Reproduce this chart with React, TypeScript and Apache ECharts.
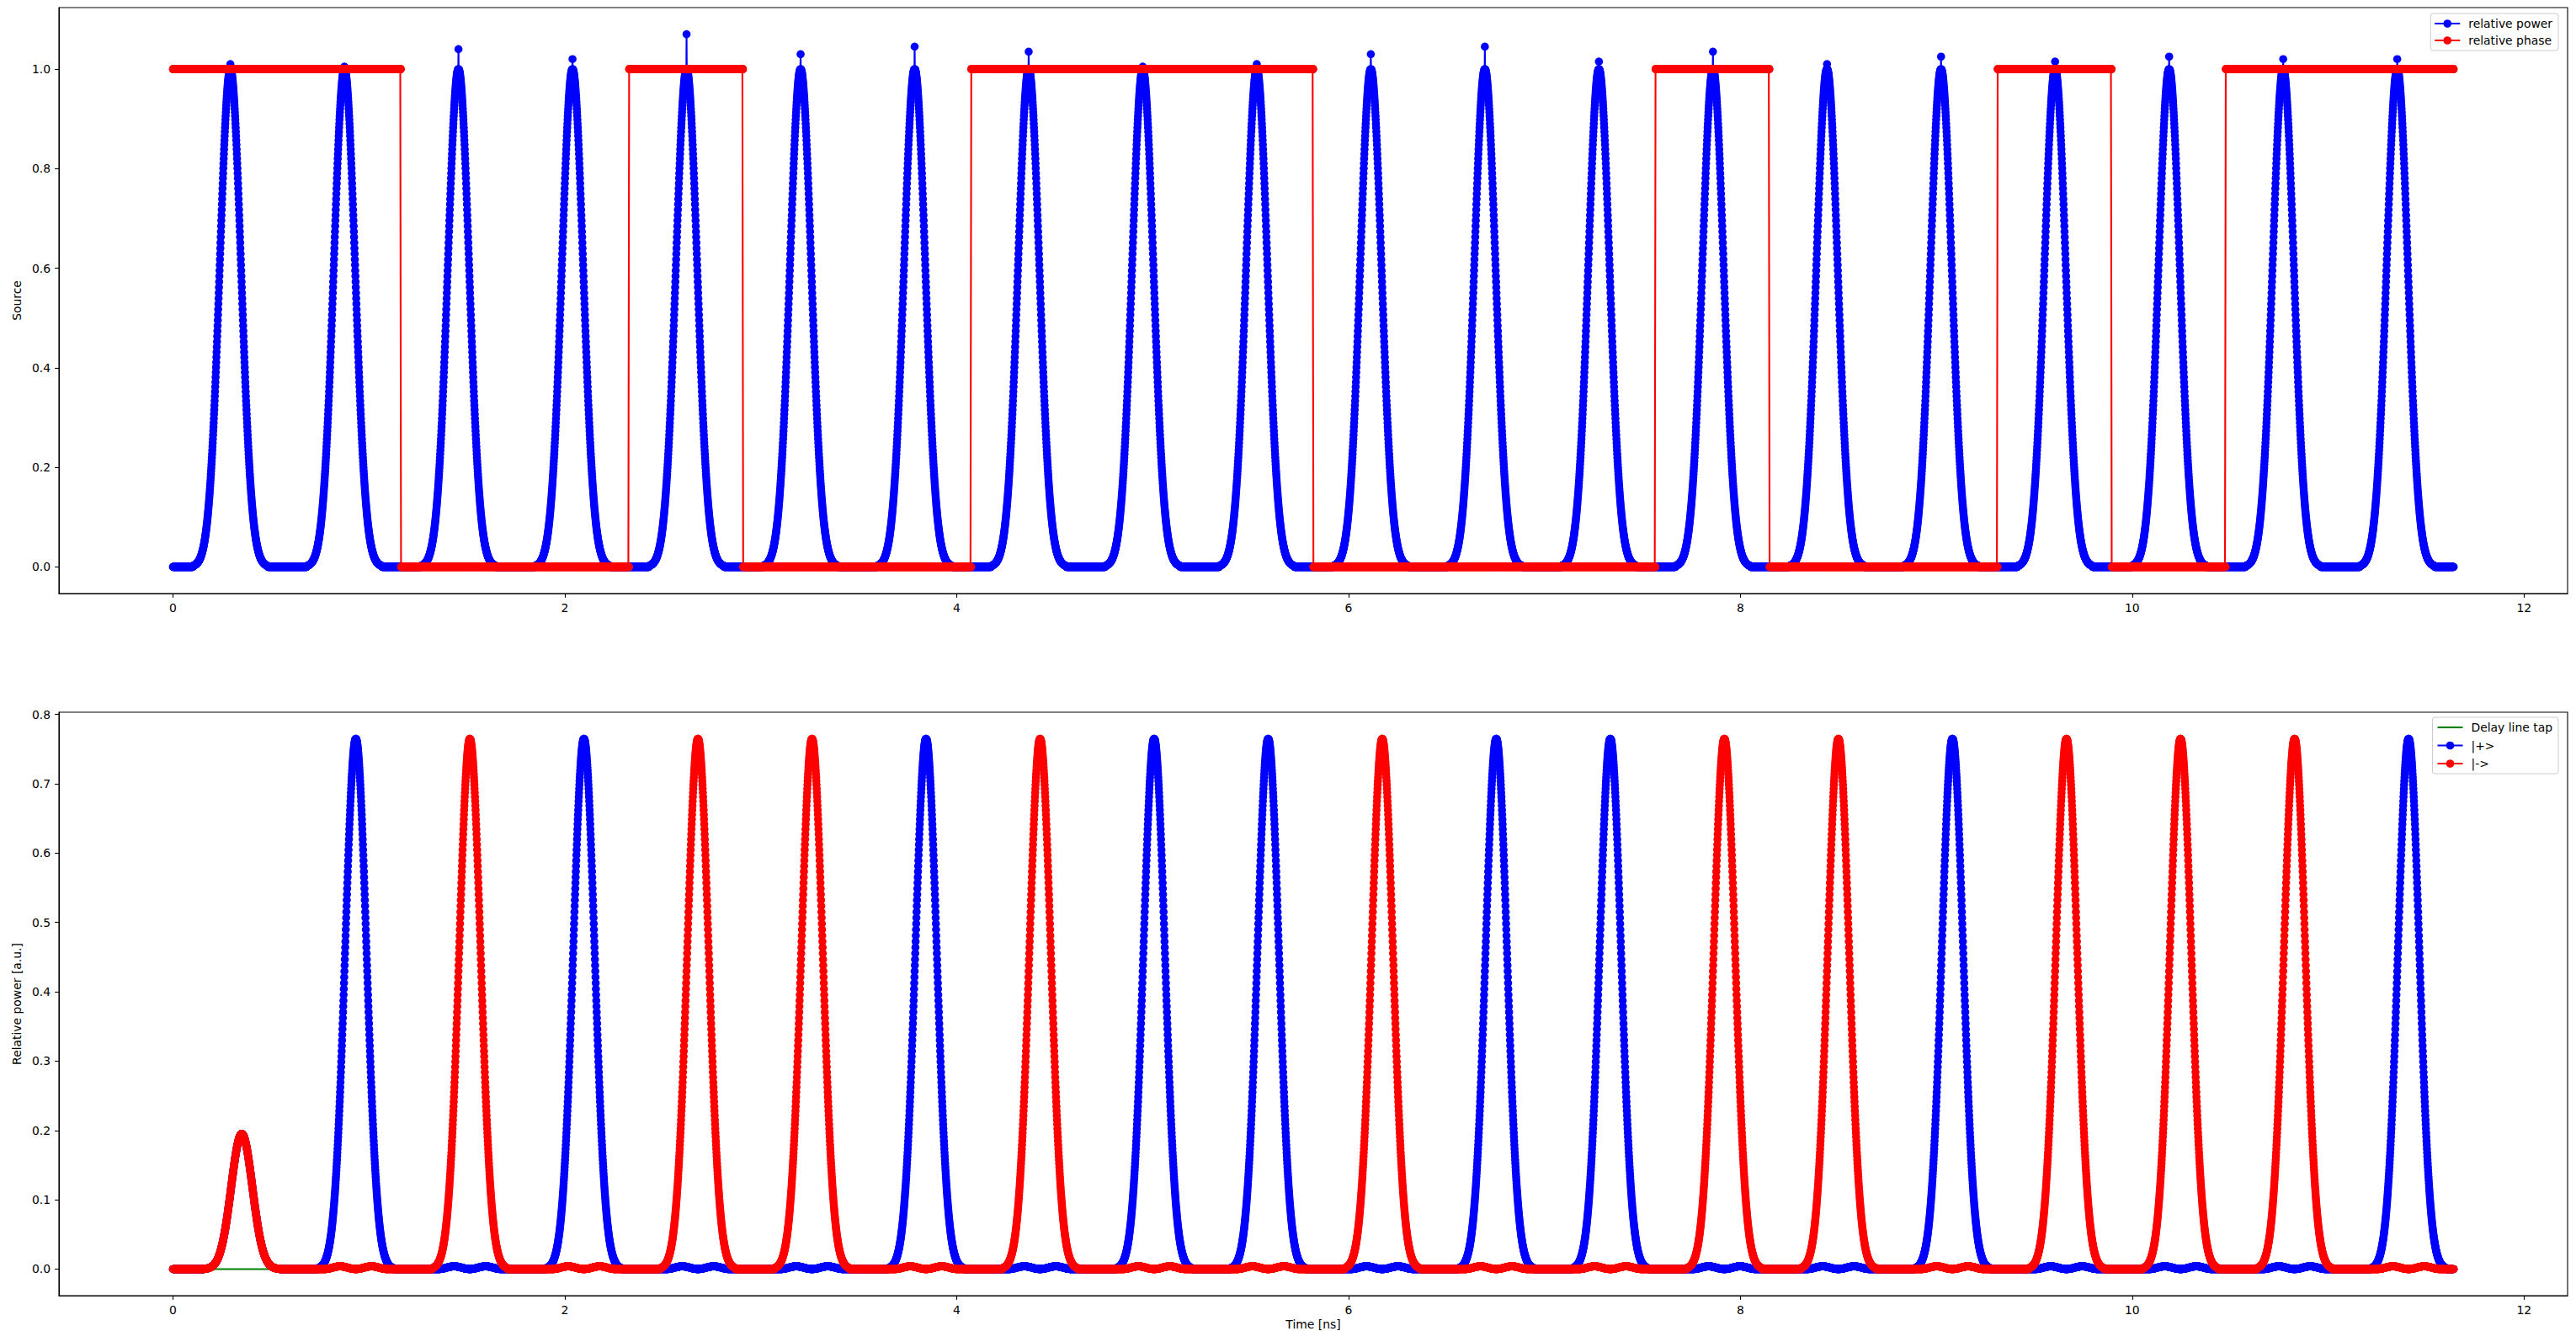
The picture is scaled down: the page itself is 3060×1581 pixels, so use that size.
import React, { useEffect, useRef } from "react";
import * as echarts from "echarts";

// ---------------- data ----------------
const SLOT_NS = 0.58208; // bit slot length [ns]
const SAMPLES_PER_SLOT = 580;
const SLOT_COUNT = 20;

// relative phase (0 / 1) of each slot, top plot
const PHASE_BITS = [1, 1, 0, 0, 1, 0, 0, 1, 1, 1, 0, 0, 0, 1, 0, 0, 1, 0, 1, 1];

// highest sample of each source pulse (top plot)
const SOURCE_PEAK_MAX = [
  1.01, 1.005, 1.04, 1.02, 1.07, 1.03, 1.045, 1.035, 1.005, 1.01,
  1.03, 1.045, 1.015, 1.035, 1.01, 1.025, 1.015, 1.025, 1.02, 1.02,
];
const SOURCE_CENTER_SAMPLE = 292; // pulse centre inside a slot (~0.293 ns)
const DETECT_CENTER_SAMPLE = 350; // detector pulses arrive ~0.058 ns later

// half pulse profile, one value per sample step (~1 ps) away from the centre
const PULSE_PROFILE = [
  1, 0.9998, 0.9993, 0.9985, 0.9973, 0.9957, 0.9938, 0.9916, 0.9891, 0.9862,
  0.983, 0.9795, 0.9756, 0.9714, 0.9669, 0.9622, 0.957, 0.9517, 0.9459, 0.94,
  0.9337, 0.9272, 0.9203, 0.9133, 0.9059, 0.8984, 0.8905, 0.8825, 0.8742, 0.8657,
  0.857, 0.8481, 0.8389, 0.8296, 0.8201, 0.8105, 0.8007, 0.7907, 0.7807, 0.7704,
  0.76, 0.7496, 0.739, 0.7283, 0.7175, 0.7066, 0.6957, 0.6847, 0.6736, 0.6625,
  0.6513, 0.6402, 0.6289, 0.6177, 0.6065, 0.5953, 0.584, 0.5728, 0.5616, 0.5505,
  0.5394, 0.5283, 0.5173, 0.5063, 0.4954, 0.4845, 0.4737, 0.4631, 0.4525, 0.442,
  0.4315, 0.4213, 0.411, 0.401, 0.391, 0.3811, 0.3713, 0.3618, 0.3522, 0.3429,
  0.3337, 0.3246, 0.3156, 0.3068, 0.2982, 0.2897, 0.2813, 0.2731, 0.265, 0.2571,
  0.2493, 0.2417, 0.2342, 0.2269, 0.2197, 0.2127, 0.2059, 0.1992, 0.1926, 0.1862,
  0.18, 0.1739, 0.1679, 0.1621, 0.1565, 0.151, 0.1456, 0.1404, 0.1353, 0.1304,
  0.1255, 0.1209, 0.1163, 0.1119, 0.1077, 0.1035, 0.0995, 0.0956, 0.0918, 0.0882,
  0.0846, 0.0812, 0.0779, 0.0747, 0.0716, 0.0686, 0.0657, 0.0629, 0.0602, 0.0576,
  0.0551, 0.0527, 0.0504, 0.0482, 0.046, 0.0439, 0.0419, 0.04, 0.0381, 0.0364,
  0.0347, 0.0331, 0.0315, 0.03, 0.0286, 0.0272, 0.0258, 0.0246, 0.0234, 0.0222,
  0.0211, 0.02, 0.019, 0.0181, 0.0171, 0.0162, 0.0154, 0.0146, 0.0138, 0.0131,
  0.0124, 0.0117, 0.0111, 0.0105, 0.0099, 0.0094, 0.0089, 0.0084, 0.0079, 0.0075,
  0.007, 0.0066, 0.0063, 0.0059, 0.0056, 0.0052, 0.0049, 0.0046, 0.0044, 0.0041,
  0.0039, 0.0036, 0.0034, 0.0032, 0.003, 0.0028, 0.0026, 0.0025, 0.0023, 0.0022,
  0.0021,
];

// small cross-talk ripple (units of 1e-5), rising half; the falling half mirrors it
const RIPPLE_RISE_1E5 = [
  0, 0, 1, 1, 2, 4, 6, 8, 10, 12, 15, 18, 22, 26, 29, 34, 38, 43, 48, 53,
  59, 64, 70, 76, 82, 89, 96, 102, 109, 116, 123, 131, 138, 146, 153, 161,
  169, 176, 184, 192, 200, 208, 216, 224, 231, 239, 247, 254, 262, 269, 277,
  284, 291, 298, 305, 311, 318, 324, 330, 336, 341, 347, 352, 357, 362, 366,
  371, 375, 378, 382, 385, 388, 390, 392, 394, 396, 398, 399, 399, 400, 400,
];

// detector pulse peak heights per slot
const PLUS_PEAKS = [
  0.195, 0.765, 0, 0.765, 0, 0, 0.765, 0, 0.765, 0.765,
  0, 0.765, 0.765, 0, 0, 0.765, 0, 0, 0, 0.765,
];
const MINUS_PEAKS = [
  0.195, 0, 0.765, 0, 0.765, 0.765, 0, 0.765, 0, 0,
  0.765, 0, 0, 0.765, 0.765, 0, 0.765, 0.765, 0.765, 0,
];

// delay line tap (flat at zero)
const TAP_TIMES = [0, 11.64];
const TAP_VALUES = [0, 0];

// axes
const X_TICKS = [0, 2, 4, 6, 8, 10, 12];
const SOURCE_Y_TICKS = [0, 0.2, 0.4, 0.6, 0.8, 1.0];
const DETECT_Y_TICKS = [0, 0.1, 0.2, 0.3, 0.4, 0.5, 0.6, 0.7, 0.8];
const X_MIN = -0.582;
const X_MAX = 12.222;
const SOURCE_Y_MIN = -0.0535;
const SOURCE_Y_MAX = 1.1235;
const DETECT_Y_MIN = -0.0383;
const DETECT_Y_MAX = 0.8033;

// ---------------- series construction ----------------
function profileAt(d: number): number {
  return d < PULSE_PROFILE.length ? PULSE_PROFILE[d] : 0;
}
function rippleAt(d: number): number {
  const r = RIPPLE_RISE_1E5.length - 1;
  if (d > 2 * r) return 0;
  const k = d <= r ? d : 2 * r - d;
  return RIPPLE_RISE_1E5[k] * 1e-5;
}

function buildSeries() {
  const power: number[][] = [];
  const phase: number[][] = [];
  const plus: number[][] = [];
  const minus: number[][] = [];
  for (let s = 0; s < SLOT_COUNT; s++) {
    for (let i = 0; i < SAMPLES_PER_SLOT; i++) {
      const idx = s * SAMPLES_PER_SLOT + i;
      const t = +((idx * SLOT_NS) / SAMPLES_PER_SLOT).toFixed(5);
      const d = Math.abs(i - SOURCE_CENTER_SAMPLE);
      power.push([t, d === 0 ? SOURCE_PEAK_MAX[s] : profileAt(d)]);
      phase.push([t, PHASE_BITS[s]]);
      const d2 = Math.abs(i - DETECT_CENTER_SAMPLE);
      const pv = PLUS_PEAKS[s] * profileAt(d2) + (MINUS_PEAKS[s] > 0.5 ? rippleAt(d2) : 0);
      const mv = MINUS_PEAKS[s] * profileAt(d2) + (PLUS_PEAKS[s] > 0.5 ? rippleAt(d2) : 0);
      plus.push([t, +pv.toFixed(5)]);
      minus.push([t, +mv.toFixed(5)]);
    }
  }
  return { power, phase, plus, minus };
}

const FONT = "DejaVu Sans";
const FS = 13.9;
const BLUE = "#0000ff";
const RED = "#ff0000";
const GREEN = "#008000";

function xAxis(gridIndex: number, name?: string) {
  return {
    type: "value",
    gridIndex,
    min: X_MIN,
    max: X_MAX,
    name: name || "",
    nameLocation: "middle",
    nameGap: 27,
    nameTextStyle: { fontFamily: FONT, fontSize: FS, color: "#000" },
    axisLine: { show: true, onZero: false, lineStyle: { color: "#000", width: 1.1 } },
    axisTick: { show: true, length: 4.9, lineStyle: { color: "#000", width: 1.1 }, customValues: X_TICKS },
    axisLabel: {
      customValues: X_TICKS,
      color: "#000",
      fontFamily: FONT,
      fontSize: FS,
      margin: 10,
      formatter: (v: number) => String(v),
    },
    splitLine: { show: false },
  };
}

function yAxis(gridIndex: number, name: string, min: number, max: number, ticks: number[], gap: number) {
  return {
    type: "value",
    gridIndex,
    min,
    max,
    name,
    nameLocation: "middle",
    nameGap: gap,
    nameTextStyle: { fontFamily: FONT, fontSize: FS, color: "#000" },
    axisLine: { show: true, onZero: false, lineStyle: { color: "#000", width: 1.1 } },
    axisTick: { show: true, length: 4.9, lineStyle: { color: "#000", width: 1.1 }, customValues: ticks },
    axisLabel: {
      customValues: ticks,
      color: "#000",
      fontFamily: FONT,
      fontSize: FS,
      margin: 10,
      formatter: (v: number) => v.toFixed(1),
    },
    splitLine: { show: false },
  };
}

function markerLine(name: string, color: string, data: number[][], xi: number, yi: number) {
  return {
    name,
    type: "line",
    xAxisIndex: xi,
    yAxisIndex: yi,
    data,
    symbol: "circle",
    symbolSize: 9.6,
    showSymbol: true,
    lineStyle: { color, width: 2.1 },
    itemStyle: { color, borderWidth: 0 },
    silent: true,
    emphasis: { disabled: true },
  };
}

const legendBase = {
  orient: "vertical",
  right: 21,
  itemWidth: 30,
  itemHeight: 12,
  backgroundColor: "rgba(255,255,255,0.8)",
  borderColor: "#cccccc",
  borderWidth: 1,
  borderRadius: 3,
  selectedMode: false,
  textStyle: { fontFamily: FONT, fontSize: FS, color: "#000", padding: [0, 0, 0, 5] },
};

export default function App() {
  const ref = useRef<HTMLDivElement>(null);
  useEffect(() => {
    if (!ref.current) return;
    const chart = echarts.init(ref.current, null, { renderer: "svg" });
    const { power, phase, plus, minus } = buildSeries();
    const tap = TAP_TIMES.map((t, i) => [t, TAP_VALUES[i]]);
    chart.setOption({
      animation: false,
      backgroundColor: "#ffffff",
      textStyle: { fontFamily: FONT },
      grid: [
        { left: 70, top: 9, width: 2980, height: 696, show: true, borderColor: "#000", borderWidth: 1.1, backgroundColor: "transparent" },
        { left: 70, top: 846, width: 2980, height: 696, show: true, borderColor: "#000", borderWidth: 1.1, backgroundColor: "transparent" },
      ],
      xAxis: [xAxis(0), xAxis(1, "Time [ns]")],
      yAxis: [
        yAxis(0, "Source", SOURCE_Y_MIN, SOURCE_Y_MAX, SOURCE_Y_TICKS, 38),
        yAxis(1, "Relative power [a.u.]", DETECT_Y_MIN, DETECT_Y_MAX, DETECT_Y_TICKS, 37),
      ],
      legend: [
        {
          ...legendBase,
          top: 16,
          itemGap: 6,
          padding: [5, 7, 5, 4],
          data: ["relative power", "relative phase"],
        },
        {
          ...legendBase,
          top: 852,
          itemGap: 7.5,
          padding: [5, 7, 5, 5],
          data: [
            { name: "Delay line tap", icon: "path://M0,0H30V2.1H0Z" },
            "|+>",
            "|->",
          ],
        },
      ],
      series: [
        markerLine("relative power", BLUE, power, 0, 0),
        markerLine("relative phase", RED, phase, 0, 0),
        {
          name: "Delay line tap",
          type: "line",
          xAxisIndex: 1,
          yAxisIndex: 1,
          data: tap,
          symbol: "none",
          showSymbol: false,
          lineStyle: { color: GREEN, width: 2.1 },
          itemStyle: { color: GREEN },
          silent: true,
        },
        markerLine("|+>", BLUE, plus, 1, 1),
        markerLine("|->", RED, minus, 1, 1),
      ],
    });
    return () => chart.dispose();
  }, []);
  return (
    <div
      ref={ref}
      style={{ position: "fixed", left: 0, top: 0, width: 3060, height: 1581, background: "#fff" }}
    />
  );
}
